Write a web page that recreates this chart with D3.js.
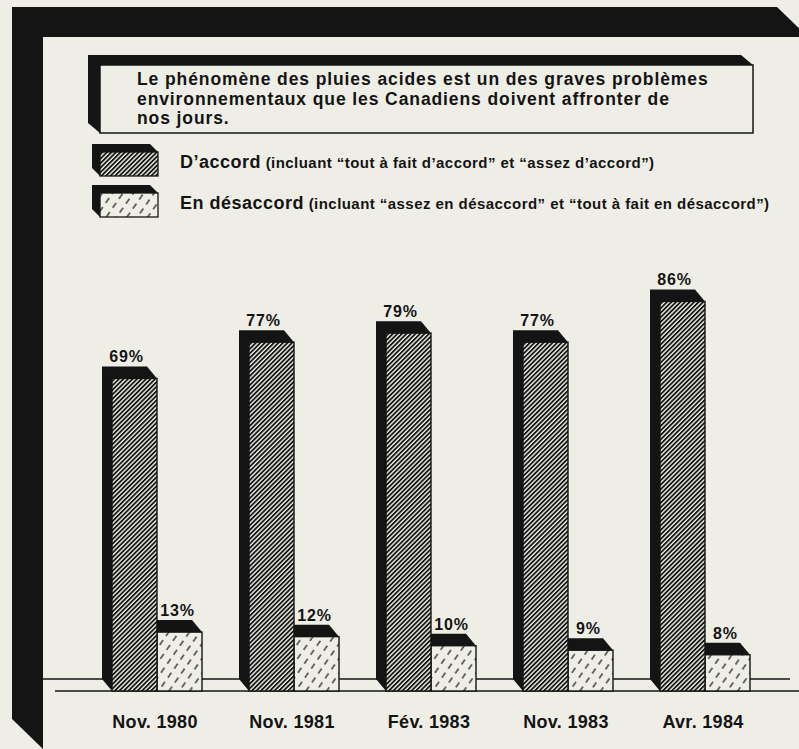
<!DOCTYPE html>
<meta charset="utf-8">
<script src="https://d3js.org/d3.v7.min.js"></script>
<style>
  body { margin: 0; background: #efeee6; }
  text { font-family: "Liberation Sans", Arial, Helvetica, sans-serif; font-weight: bold; fill: #141414; }
</style>
<body>
<div id="chart"></div>
<script>
// data
var categories = ["Nov. 1980", "Nov. 1981", "Fév. 1983", "Nov. 1983", "Avr. 1984"];
var agree = [69, 77, 79, 77, 86];
var disagree = [13, 12, 10, 9, 8];
var seriesKeys = ["agree", "disagree"];
var titleLines = [
  "Le phénomène des pluies acides est un des graves problèmes",
  "environnementaux que les Canadiens doivent affronter de",
  "nos jours."
];
var legendMain = ["D\u2019accord", "En désaccord"];
var legendNote = [
  " (incluant \u201ctout à fait d\u2019accord\u201d et \u201cassez d\u2019accord\u201d)",
  " (incluant \u201cassez en désaccord\u201d et \u201ctout à fait en désaccord\u201d)"
];

var W = 799, H = 749;
var ink = "#141414", paper = "#efeee6";
var base = 691;
var dx = 10, dy = 12;   // depth of the bars (towards upper left)

var svg = d3.select("#chart").append("svg")
  .attr("width", W).attr("height", H);

svg.append("rect").attr("width", W).attr("height", H).attr("fill", paper);

// hatch patterns
var defs = svg.append("defs");
var p1 = defs.append("pattern").attr("id", "hatchDense")
  .attr("patternUnits", "userSpaceOnUse")
  .attr("width", 3.2).attr("height", 10)
  .attr("patternTransform", "rotate(45)");
p1.append("rect").attr("width", 3.2).attr("height", 10).attr("fill", paper);
p1.append("line").attr("x1", 0.9).attr("x2", 0.9).attr("y1", 0).attr("y2", 10)
  .attr("stroke", ink).attr("stroke-width", 1.8);

var p2 = defs.append("pattern").attr("id", "hatchDash")
  .attr("patternUnits", "userSpaceOnUse")
  .attr("width", 8.5).attr("height", 11)
  .attr("patternTransform", "rotate(35)");
p2.append("rect").attr("width", 8.5).attr("height", 11).attr("fill", paper);
p2.append("line").attr("x1", 1).attr("x2", 1).attr("y1", 0).attr("y2", 6)
  .attr("stroke", ink).attr("stroke-width", 1.2);

var fills = { agree: "url(#hatchDense)", disagree: "url(#hatchDash)" };

// outer panel: thick black top and left faces
svg.append("path")
  .attr("d", "M12,7 L777,7 L808,37 L43,37 L43,749 L12,719 Z")
  .attr("fill", ink);

// title box
svg.append("path")
  .attr("d", "M88,55 L741,55 L753,65 L100,65 L100,133 L88,123 Z")
  .attr("fill", ink);
svg.append("rect")
  .attr("x", 100).attr("y", 65).attr("width", 653).attr("height", 68)
  .attr("fill", paper).attr("stroke", ink).attr("stroke-width", 1.5);

svg.append("g").selectAll("text")
  .data(titleLines).join("text")
    .attr("x", 137)
    .attr("y", function(d, i) { return 85 + i * 19.5; })
    .style("font-size", "17.5px")
    .style("letter-spacing", "0.9px")
    .text(function(d) { return d; });

// legend
var legend = svg.append("g").selectAll("g")
  .data(seriesKeys).join("g")
    .attr("transform", function(d, i) { return "translate(0," + (i * 41) + ")"; });

legend.append("path")
  .attr("d", "M92,144 L150,144 L158,152 L100,152 L100,176 L92,168 Z")
  .attr("fill", ink);
legend.append("rect")
  .attr("x", 100).attr("y", 152).attr("width", 58).attr("height", 24)
  .attr("fill", function(d) { return fills[d]; })
  .attr("stroke", ink).attr("stroke-width", 1.3);

var lt = legend.append("text").attr("x", 180).attr("y", 168);
lt.append("tspan")
  .style("font-size", "18px").style("letter-spacing", "0.5px")
  .text(function(d, i) { return legendMain[i]; });
lt.append("tspan")
  .style("font-size", "15px").style("letter-spacing", "0.45px")
  .text(function(d, i) { return legendNote[i]; });

// scales
var x = d3.scaleBand()
  .domain(categories)
  .range([112, 750])
  .paddingInner(0.343)
  .paddingOuter(0);

var xs = d3.scaleBand()
  .domain(seriesKeys)
  .range([0, x.bandwidth()]);

var y = d3.scaleLinear()
  .domain([0, 100])
  .range([base, base - 453]);

// floor lines
svg.append("line").attr("x1", 43).attr("x2", 790)
  .attr("y1", base - dy).attr("y2", base - dy)
  .attr("stroke", ink).attr("stroke-width", 1.3);
svg.append("line").attr("x1", 55).attr("x2", W)
  .attr("y1", base).attr("y2", base)
  .attr("stroke", ink).attr("stroke-width", 1.6);

var rows = categories.map(function(c, i) {
  return { cat: c, agree: agree[i], disagree: disagree[i] };
});

var groups = svg.append("g").selectAll("g")
  .data(rows).join("g")
    .attr("transform", function(d) { return "translate(" + x(d.cat) + ",0)"; });

// disagree drawn first so the taller bar covers its hidden side
["disagree", "agree"].forEach(function(key) {
  var x0 = xs(key), w = xs.bandwidth();
  groups.append("path")
    .attr("d", function(d) {
      var t = y(d[key]);
      return "M" + (x0 - dx) + "," + (t - dy) +
        " L" + (x0 + w - dx) + "," + (t - dy) +
        " L" + (x0 + w) + "," + t +
        " L" + x0 + "," + t +
        " L" + x0 + "," + base +
        " L" + (x0 - dx) + "," + (base - dy) + " Z";
    })
    .attr("fill", ink);
  groups.append("rect")
    .attr("x", x0).attr("width", w)
    .attr("y", function(d) { return y(d[key]); })
    .attr("height", function(d) { return base - y(d[key]); })
    .attr("fill", fills[key])
    .attr("stroke", ink).attr("stroke-width", 1.4);
  groups.append("text")
    .attr("x", x0 + w / 2 - (key === "agree" ? 8 : 2))
    .attr("y", function(d) { return y(d[key]) - 16; })
    .attr("text-anchor", "middle")
    .style("font-size", "16px")
    .style("letter-spacing", "0.8px")
    .text(function(d) { return d[key] + "%"; });
});

// category labels
groups.append("text")
  .attr("x", x.bandwidth() / 2 - 2)
  .attr("y", 728)
  .attr("text-anchor", "middle")
  .style("font-size", "18px")
  .style("letter-spacing", "0.3px")
  .text(function(d) { return d.cat; });
</script>
</body>
